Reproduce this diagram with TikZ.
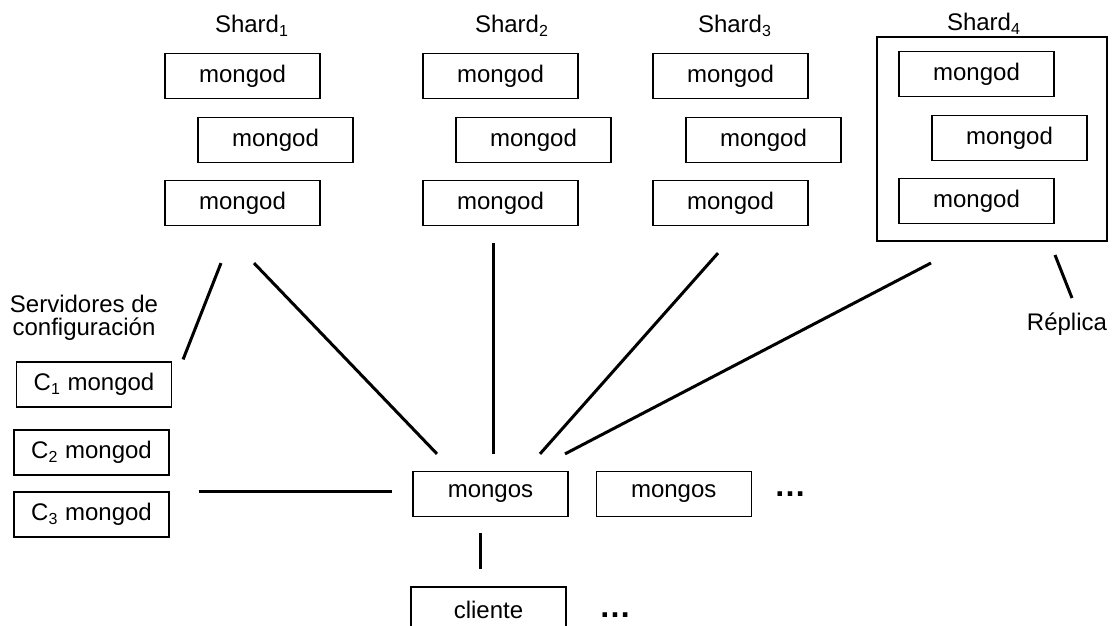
\documentclass[tikz,border=0pt]{standalone}
\usepackage{fontspec}
\setmainfont{Liberation Sans}
\usetikzlibrary{calc,positioning}

\begin{document}
\begin{tikzpicture}[x=0.5pt,y=-0.5pt]

	% Definitions.
	\def\BoxWidth{77.5pt}
	\def\BoxHeight{22.5pt}
	\def\LinkWidth{1.5pt}
	\tikzstyle{every node}=[
		font=\fontsize{12}{11.5}\selectfont,
		inner sep=0pt
	]
	\tikzstyle{box}=[draw, line width=0.6pt, minimum width=\BoxWidth, minimum height=\BoxHeight]
	\tikzstyle{link}=[line width=\LinkWidth]
	\tikzstyle{moredots}=[font=\fontsize{16}{16}\selectfont\bfseries]

	% Canvas.
	\clip (0,0) rectangle (1116,626);

	% ---------- Shards ----------

	\foreach \n/\x/\y in {1/242.5/76,2/500.5/76,3/730.5/76,4/976.5/74}{
		\node[box] (shard\n-a) at (\x,\y) {mongod};
		\node[box] (shard\n-b) at (\x+33,\y+64) {mongod};
		\node[box] (shard\n-c) at (\x,\y+127) {mongod};
	}
	\foreach \n/\x/\y in {1/252/33,2/512/33,3/735/33,4/984/31}
		\node[anchor=base] (shardname\n) at (\x,\y) {Shard\textsubscript{\n}};

	% Replica set frame.
	\node[draw, line width=1pt, minimum width=115pt, minimum height=102pt] (replset) at (992,139) {};
	\node[anchor=base] (replica) at (1067,330) {Réplica};

	% ---------- Config Servers ----------

	\node[align=center] (cfgname) at (84,318) {Servidores de\\configuración};
	\node[box] (conf1) at (94,384.5) {C\textsubscript{1} mongod};
	\node[box] (conf2) at (91.5,452.5) {C\textsubscript{2} mongod};
	\node[box] (conf3) at (91.5,514.5) {C\textsubscript{3} mongod};

	% ---------- Routers and Client ----------

	\node[box] (mongos1) at (490.5,494) {mongos};
	\node[box, right=13.5pt of mongos1] (mongos2) {mongos};
	\node[moredots, right=11pt of mongos2] (moremongos) {…};
	\node[box] (cliente) at (488.5,609.5) {cliente};
	\node[moredots, right=16pt of cliente, yshift=-2.75pt] (moreclientes) {…};

	% ---------- Links ----------

	\coordinate (cfgTop) at ([shift={(-21.5,37)}]shard1-c.south);
	\coordinate (cfgEnd) at ([shift={(11,-2)}]conf1.north east);
	\coordinate (s1Top) at ([shift={(11.5,37)}]shard1-c.south);
	\coordinate (s1End) at ([shift={(-53.5,-17)}]mongos1.north);
	\coordinate (s2Top) at ([shift={(-7.5,17)}]shard2-c.south);
	\coordinate (s2End) at ([shift={(2.5,-17)}]mongos1.north);
	\coordinate (s3Top) at ([shift={(-12.5,27)}]shard3-c.south);
	\coordinate (s3End) at ([shift={(49.5,-17)}]mongos1.north);
	\coordinate (s4Top) at ([shift={(-61,21)}]replset.south);
	\coordinate (s4End) at ([shift={(74.5,-17)}]mongos1.north);
	\coordinate (repTop) at ([shift={(63,13)}]replset.south);
	\coordinate (repEnd) at ([shift={(80,56)}]replset.south);
	\coordinate (confEnd) at ([shift={(29,-23.5)}]conf3.east);
	\coordinate (mongosWest) at ([shift={(-20,-3)}]mongos1.west);
	\coordinate (mongosBottom) at ([shift={(-10.5,16)}]mongos1.south);
	\coordinate (clienteTop) at ([shift={(-8.5,-17)}]cliente.north);

	\draw[link] (cfgTop) -- (cfgEnd);
	\draw[link] (s1Top) -- (s1End);
	\draw[link] (s2Top) -- (s2End);
	\draw[link] (s3Top) -- (s3End);
	\draw[link] (s4Top) -- (s4End);
	\draw[link] (repTop) -- (repEnd);
	\draw[link] (confEnd) -- (mongosWest);
	\draw[link] (mongosBottom) -- (clienteTop);

\end{tikzpicture}
\end{document}
